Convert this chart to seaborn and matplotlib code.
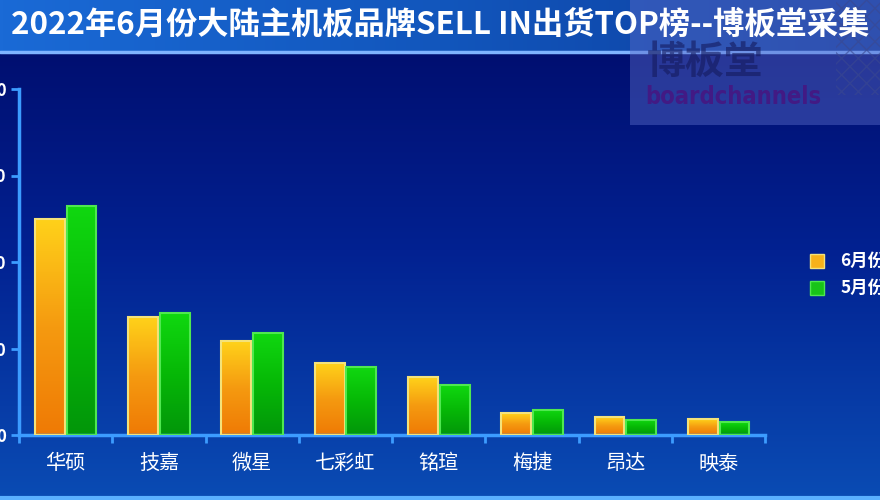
import numpy as np
import pandas as pd
import seaborn as sns
import matplotlib.pyplot as plt
from matplotlib.patches import Rectangle
from matplotlib.colors import LinearSegmentedColormap

# values (y-axis labels are cropped in the source)
brands = ["华硕", "技嘉", "微星", "七彩虹", "铭瑄", "梅捷", "昂达", "映泰"]
june = [124.9, 68.2, 54.3, 41.6, 33.5, 12.7, 10.4, 9.2]
may = [132.4, 70.5, 59.0, 39.3, 28.9, 14.5, 8.7, 7.5]
series = ["6月份", "5月份"]
yticks = [0, 50, 100, 150, 200]

title = "2022年6月份大陆主机板品牌SELL IN出货TOP榜--博板堂采集"

df = pd.DataFrame({
    "brand": brands * 2,
    "value": june + may,
    "series": [series[0]] * len(brands) + [series[1]] * len(brands),
})

sns.set_theme(style="white")
plt.rcParams["font.family"] = ["Noto Sans CJK SC", "DejaVu Sans"]

orange = "#f7b21a"
green = "#18c418"
axis_blue = "#3c9cff"

fig = plt.figure(figsize=(8.8, 5), dpi=100)

# background gradient
bg = fig.add_axes([0, 0, 1, 1], zorder=0)
grad = np.linspace(0, 1, 256).reshape(-1, 1)
bg_cmap = LinearSegmentedColormap.from_list("bg", ["#000a68", "#022191", "#0a4cb4"])
bg.imshow(grad, aspect="auto", cmap=bg_cmap, extent=[0, 1, 0, 1], origin="upper")
# title bar
bar_grad = np.linspace(0, 1, 256).reshape(1, -1)
tb_cmap = LinearSegmentedColormap.from_list("tb", ["#1a6ad6", "#1256bc", "#0c3c9c"])
bg.imshow(bar_grad, aspect="auto", cmap=tb_cmap, extent=[0, 1, 0.896, 1])
bg.axhline(0.896, color="#7fb4ff", lw=2.5)
bg.axhline(0.004, color="#5ab0ff", lw=3)
bg.set_xlim(0, 1)
bg.set_ylim(0, 1)
bg.axis("off")

ax = fig.add_axes([0.0216, 0.13, 0.848, 0.692], zorder=2)
ax.patch.set_alpha(0)

sns.barplot(
    data=df, x="brand", y="value", hue="series",
    palette=[orange, green], width=0.68, gap=0.06,
    edgecolor="none", ax=ax, legend=False,
)

# gradient fill on each bar
cmaps = {
    0: LinearSegmentedColormap.from_list("o", ["#ffd21a", "#f59a10", "#ef7a05"]),
    1: LinearSegmentedColormap.from_list("g", ["#10d810", "#06b806", "#02960a"]),
}
n = len(brands)
for i, p in enumerate(ax.patches[: 2 * n]):
    x, w, h = p.get_x(), p.get_width(), p.get_height()
    cm = cmaps[i // n]
    edge = "#f4e27a" if i // n == 0 else "#4fe84f"
    ax.imshow(grad, aspect="auto", cmap=cm, extent=[x, x + w, 0, h],
              origin="upper", zorder=2)
    p.set_facecolor("none")
    p.set_edgecolor(edge)
    p.set_linewidth(1.5)
    p.set_zorder(3)

ax.set_xlim(-0.5, n - 0.5)
ax.set_ylim(0, 200)
ax.set_yticks(yticks)
ax.set_yticklabels([str(v) for v in yticks])
ax.set_xlabel("")
ax.set_ylabel("")
sns.despine(ax=ax)
for s in ["left", "bottom"]:
    ax.spines[s].set_color(axis_blue)
    ax.spines[s].set_linewidth(2.5)

ax.tick_params(axis="y", colors=axis_blue, length=6, width=2, pad=3, left=True,
               labelcolor="white", labelsize=12)
for t in ax.get_yticklabels():
    t.set_fontweight("bold")
ax.set_xticks(np.arange(-0.5, n, 1.0), minor=True)
ax.tick_params(axis="x", which="major", length=0, pad=13, labelcolor="white",
               labelsize=14.5)
ax.tick_params(axis="x", which="minor", colors=axis_blue, length=6, width=2,
               bottom=True, direction="out")

# watermark box (sits behind the title text)
fig.patches.append(Rectangle((0.716, 0.75), 0.3, 0.26, transform=fig.transFigure,
                             facecolor="#5a6ac8", alpha=0.45, edgecolor="none",
                             zorder=4))
fig.patches.append(Rectangle((0.95, 0.81), 0.06, 0.19, transform=fig.transFigure,
                             facecolor="none", edgecolor="#3a4890", hatch="xx",
                             lw=0, alpha=0.6, zorder=4))
fig.text(0.735, 0.875, "博板堂", color="#141a5e", fontsize=28, fontweight="bold",
         va="center", ha="left", alpha=0.6, zorder=4)
fig.text(0.733, 0.806, "boardchannels", color="#421a84", fontsize=17,
         fontweight="bold", fontstretch="condensed", va="center", ha="left",
         zorder=4, family=["DejaVu Sans"])

# title
fig.text(0.012, 0.95, title, color="white", fontsize=22.5, fontweight="bold",
         va="center", ha="left", zorder=5)

# legend (cropped at the right edge like the source)
for k, (lab, col) in enumerate(zip(series, [orange, green])):
    yk = 0.478 - k * 0.054
    fig.patches.append(Rectangle((0.921, yk - 0.014), 0.015, 0.028,
                                 transform=fig.transFigure, facecolor=col,
                                 edgecolor="#f4e27a" if k == 0 else "#4fe84f",
                                 lw=1, zorder=4))
    fig.text(0.955, yk, lab, color="white", fontsize=12.5, fontweight="bold",
             va="center", ha="left", zorder=4)

fig.savefig("out.png", dpi=100)
